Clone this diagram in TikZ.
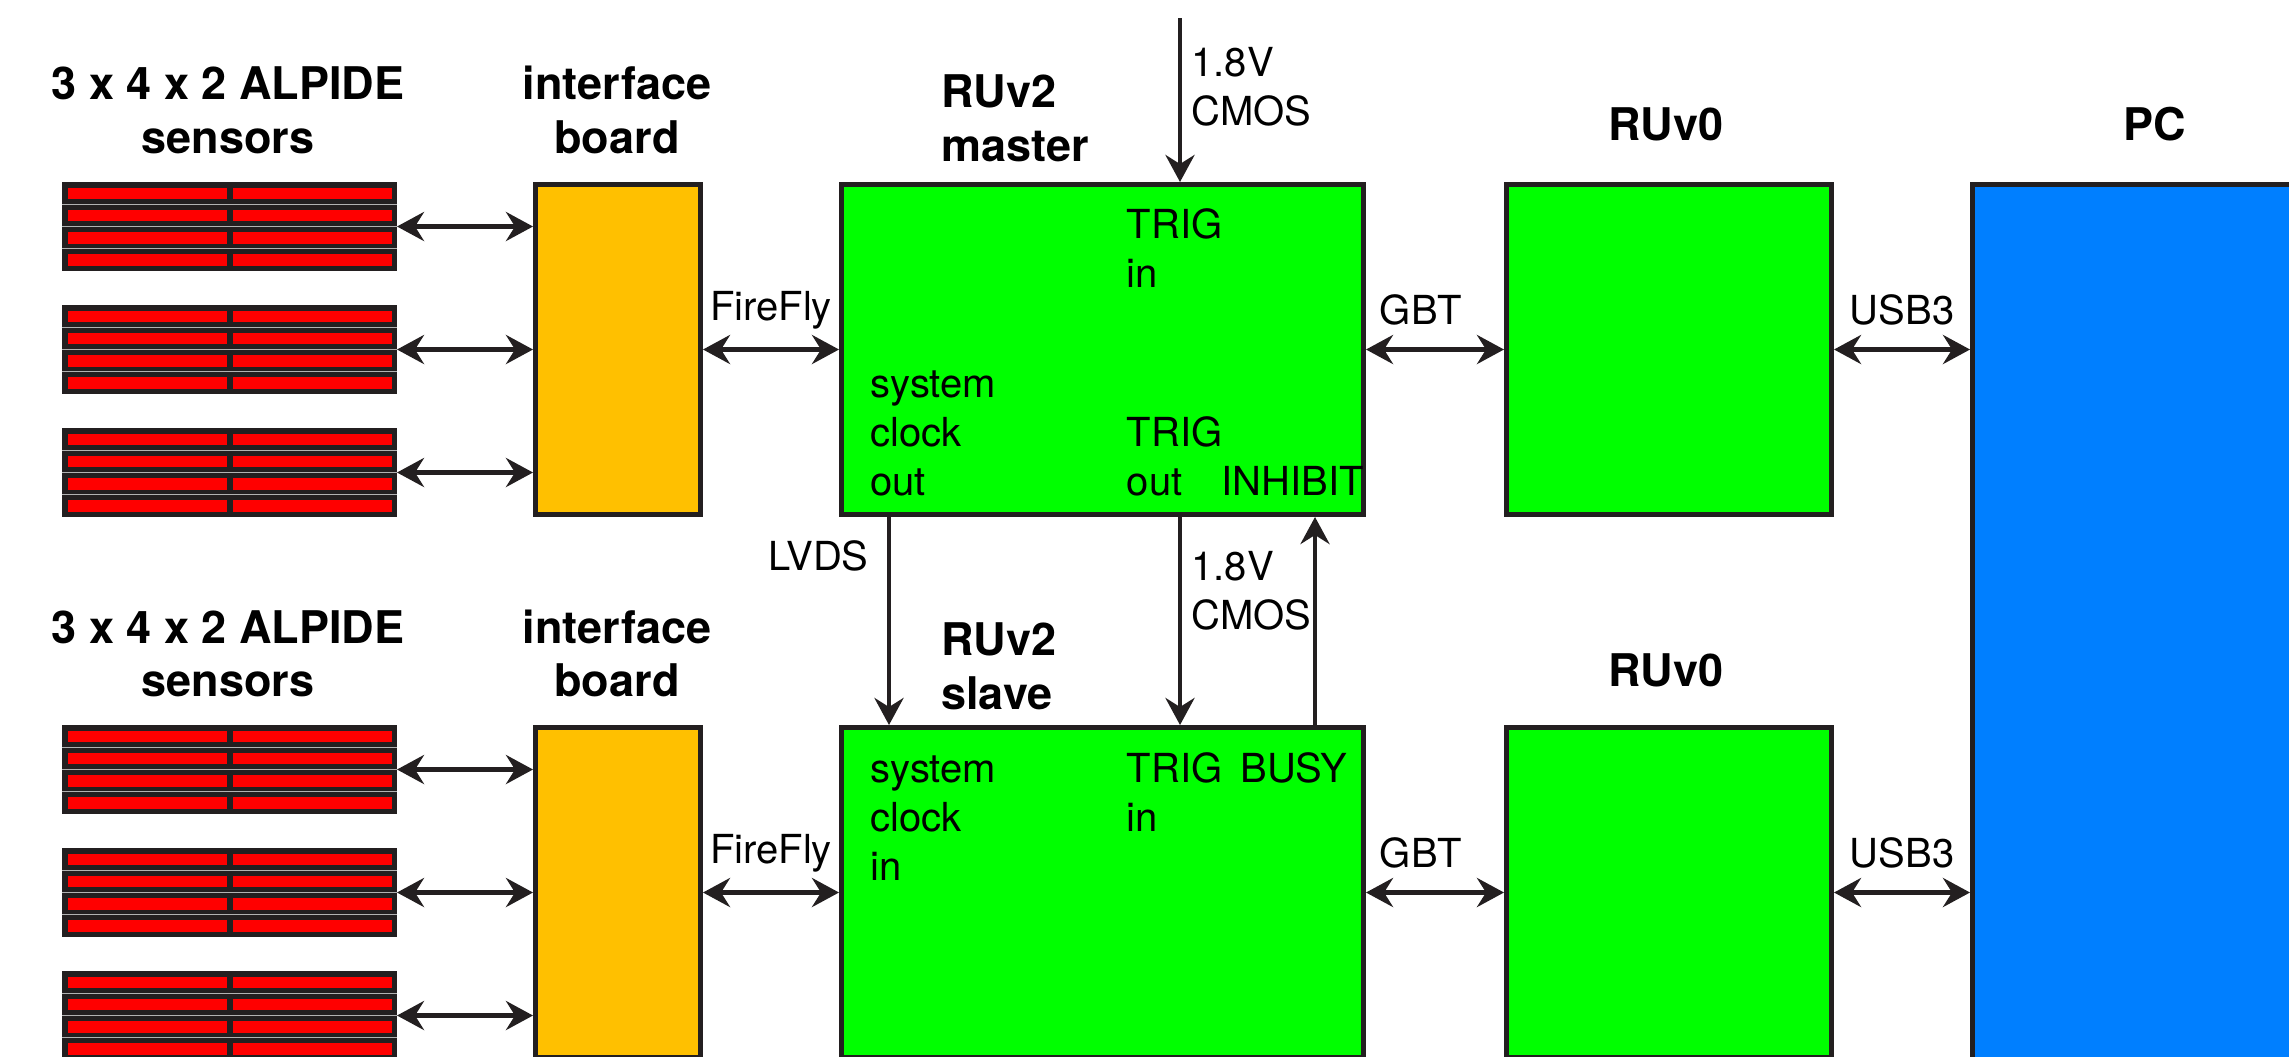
\documentclass[tikz,border=0pt]{standalone}
\usepackage{fontspec}
\setmainfont{TeX Gyre Heros}
\usetikzlibrary{arrows.meta,calc}
\definecolor{dk}{HTML}{231F20}
\definecolor{ibyellow}{HTML}{FFC000}
\definecolor{rugreen}{HTML}{00FF00}
\definecolor{pcblue}{HTML}{007FFF}
\definecolor{chipred}{HTML}{FF0000}
\begin{document}
\begin{tikzpicture}[x=0.5pt,y=-0.5pt,
  box/.style={draw=dk, line width=2.5pt, inner sep=0, rectangle},
  ibbox/.style={box, fill=ibyellow, minimum width=82.5pt, minimum height=165pt},
  rubox/.style={box, fill=rugreen, minimum width=261pt, minimum height=165pt},
  r0box/.style={box, fill=rugreen, minimum width=162.5pt, minimum height=165pt},
  pcbox/.style={box, fill=pcblue, minimum width=182.5pt, minimum height=457.5pt},
  stack/.style={rectangle, fill=dk, inner sep=0, outer sep=0,
    minimum width=167.5pt, minimum height=44.5pt,
    path picture={
      \foreach \r in {0,1,2,3} {
        \fill[chipred] ($(path picture bounding box.north west)+(6,{5.5+22.25*\r})$) rectangle ++(159,11.5);
        \fill[chipred] ($(path picture bounding box.north west)+(171,{5.5+22.25*\r})$) rectangle ++(159,11.5);
      }
      \foreach \r in {1,2,3}
        \draw[gray!60, line width=0.4pt] ($(path picture bounding box.north west)+(0,{22.25*\r})$) -- ++(335,0);
    }},
  tip/.tip={Stealth[length=13.5pt,width=14.5pt,inset=4.5pt]},
  biarr/.style={tip-tip, draw=dk, line width=2.3pt},
  arr/.style={-tip, draw=dk, line width=2.3pt},
  ttl/.style={font=\fontsize{22.5pt}{26.8pt}\selectfont\bfseries, inner sep=0, align=center, anchor=base},
  ttll/.style={ttl, align=left, anchor=base west},
  txt/.style={font=\fontsize{20pt}{24.5pt}\selectfont, inner sep=0, align=left, anchor=base west},
  clbl/.style={font=\fontsize{20pt}{24.5pt}\selectfont, inner sep=0, anchor=base}
]
\useasboundingbox (0,0) rectangle (2289,1056);
\fill[white] (0,0) rectangle (2289,1056);
\clip (0,0) rectangle (2289,1056);

% ---------- top row ----------
\node[stack] (sa1) at (229.5,226.5) {};
\node[stack] (sa2) at (229.5,349.5) {};
\node[stack] (sa3) at (229.5,472.5) {};
\node[ibbox] (ib1) at (618,349.5) {};
\node[rubox] (m) at (1102.5,349.5) {};
\node[r0box] (r1) at (1669,349.5) {};
\node[pcbox] (pc) at (2155,642) {};

% ---------- bottom row ----------
\node[stack] (sb1) at (229.5,769.5) {};
\node[stack] (sb2) at (229.5,892.5) {};
\node[stack] (sb3) at (229.5,1015.5) {};
\node[ibbox] (ib2) at (618,892.5) {};
\node[rubox] (s) at (1102.5,892.5) {};
\node[r0box] (r2) at (1669,892.5) {};

% ---------- titles (anchor = baseline of last line) ----------
\node[ttl] (tsa) at (228,153.3) {3 x 4 x 2 ALPIDE\\sensors};
\node[ttl] (tib1) at (617,153.3) {interface\\board};
\node[ttll] (tm) at (941,161) {RUv2\\master};
\node[ttl] (tr1) at (1666,140.7) {RUv0};
\node[ttl] (tpc) at (2155,140.7) {PC};
\node[ttl] (tsb) at (228,696.7) {3 x 4 x 2 ALPIDE\\sensors};
\node[ttl] (tib2) at (617,696.7) {interface\\board};
\node[ttll] (ts) at (941,709) {RUv2\\slave};
\node[ttl] (tr2) at (1666,686.7) {RUv0};

% ---------- texts inside boxes ----------
\node[txt] (mtrigin) at (1126.4,287.5) {TRIG\\in};
\node[txt] (mclk) at (870,495) {system\\clock\\out};
\node[txt] (mtrigout) at (1126.4,495) {TRIG\\out};
\node[txt] (minh) at (1221,495) {INHIBIT};
\node[txt] (sclk) at (870,880) {system\\clock\\in};
\node[txt] (strigin) at (1126.4,831) {TRIG\\in};
\node[txt] (sbusy) at (1240,782) {BUSY};

% ---------- sensor links ----------
\foreach \k in {1,2,3} {
  \draw[biarr] (sa\k.east) -- (sa\k.east -| ib1.west);
  \draw[biarr] (sb\k.east) -- (sb\k.east -| ib2.west);
}

% ---------- horizontal links ----------
\draw[biarr] (ib1.east) -- node[clbl, yshift=14.5pt] (ff1) {FireFly} (m.west);
\draw[biarr] (m.east) -- node[clbl, yshift=12.5pt, xshift=-7pt] (gbt1) {GBT} (r1.west);
\draw[biarr] (r1.east) -- node[clbl, yshift=12.5pt] (usb1) {USB3} (r1.east -| pc.west);
\draw[biarr] (ib2.east) -- node[clbl, yshift=14.5pt] (ff2) {FireFly} (s.west);
\draw[biarr] (s.east) -- node[clbl, yshift=12.5pt, xshift=-7pt] (gbt2) {GBT} (r2.west);
\draw[biarr] (r2.east) -- node[clbl, yshift=12.5pt] (usb2) {USB3} (r2.east -| pc.west);

% ---------- vertical links ----------
\coordinate (cmosin) at (1180,18);
\coordinate (xlvds) at (889,0);
\coordinate (xcmos) at (1180,0);
\coordinate (xbusy) at (1315,0);
\draw[arr] (cmosin) -- (cmosin |- m.north);
\node[txt] (cmos1) at (1191,125) {1.8V\\CMOS};
\draw[arr] (m.south -| xlvds) -- (s.north -| xlvds);
\node[clbl, anchor=base east] (lvds) at (869,570) {LVDS};
\draw[arr] (m.south -| xcmos) -- (s.north -| xcmos);
\node[txt] (cmos2) at (1191,629.3) {1.8V\\CMOS};
\draw[arr] (s.north -| xbusy) -- (m.south -| xbusy);
\end{tikzpicture}
\end{document}
